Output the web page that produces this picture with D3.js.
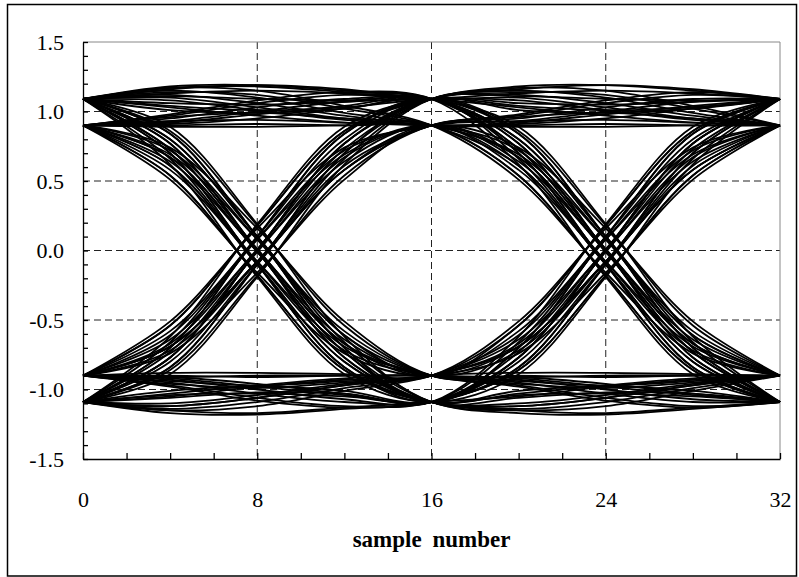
<!DOCTYPE html>
<html><head><meta charset="utf-8">
<script src="https://cdn.jsdelivr.net/npm/d3@7"></script>
<style>body{margin:0;background:#fff}svg{display:block}</style>
</head><body>
<svg id="c" width="799" height="577"></svg>
<script>
// Waveform, one row per symbol period (values at samples 0,4,8,12 of the period)
const segments = [
  [1.09, 1.17, 1.18, 1.14], [1.09, 0.77, 0.00, -0.77], [-1.09, -1.12, -1.06, -0.97],
  [-0.90, -0.69, -0.08, 0.58], [0.90, 0.97, 1.06, 1.12], [1.09, 1.03, 0.97, 0.92],
  [0.90, 0.54, -0.18, -0.86], [-1.09, -1.04, -1.03, -1.05], [-1.09, -0.84, -0.10, 0.70],
  [1.09, 0.86, 0.18, -0.54], [-0.90, -0.90, -0.91, -0.90], [-0.90, -0.92, -0.98, -1.04],
  [-1.09, -0.80, -0.10, 0.61], [0.90, 0.96, 0.99, 0.95], [0.90, 0.92, 0.98, 1.04],
  [1.09, 0.70, -0.10, -0.84], [-1.09, -0.77, 0.00, 0.77], [1.09, 1.01, 0.99, 1.02],
  [1.09, 0.73, 0.01, -0.67], [-0.90, -0.58, 0.08, 0.69], [0.90, 0.61, -0.10, -0.80],
  [-1.09, -1.03, -0.97, -0.92], [-0.90, -0.96, -0.99, -0.95], [-0.90, -0.67, 0.01, 0.73],
  [1.09, 1.12, 1.06, 0.97], [0.90, 0.90, 0.91, 0.90], [0.90, 0.67, -0.01, -0.73],
  [-1.09, -0.70, 0.10, 0.84], [1.09, 0.84, 0.10, -0.70], [-1.09, -1.17, -1.18, -1.14],
  [-1.09, -0.86, -0.18, 0.54], [0.90, 0.95, 1.03, 1.09], [1.09, 0.80, 0.10, -0.61],
  [-0.90, -0.54, 0.18, 0.86], [1.09, 1.06, 1.05, 1.07], [1.09, 0.77, 0.00, -0.77],
  [-1.09, -1.10, -1.04, -0.96], [-0.90, -0.64, 0.00, 0.64], [0.90, 0.58, -0.08, -0.69],
  [-0.90, -0.97, -1.06, -1.12], [-1.09, -0.77, 0.00, 0.77], [1.09, 1.15, 1.10, 0.99],
  [0.90, 0.69, 0.08, -0.58], [-0.90, -0.91, -0.90, -0.90], [-0.90, -0.95, -1.03, -1.09],
  [-1.09, -0.84, -0.10, 0.70], [1.09, 1.16, 1.19, 1.16], [1.09, 1.10, 1.03, 0.95],
  [0.90, 0.54, -0.18, -0.86], [-1.09, -1.14, -1.09, -0.99], [-0.90, -0.69, -0.08, 0.58],
  [0.90, 0.93, 1.00, 1.07], [1.09, 1.13, 1.15, 1.13], [1.09, 0.89, 0.19, -0.62],
  [-1.09, -1.06, -1.02, -1.03], [-1.09, -0.73, -0.01, 0.67], [0.90, 0.74, 0.16, -0.51],
  [-0.90, -0.93, -1.00, -1.07], [-1.09, -0.62, 0.19, 0.89], [1.09, 1.04, 1.01, 1.03],
  [1.09, 1.08, 1.01, 0.94], [0.90, 0.89, 0.89, 0.90], [0.90, 0.72, 0.08, -0.66],
  [-1.09, -1.15, -1.12, -1.01], [-0.90, -0.61, 0.10, 0.80], [1.09, 0.66, -0.08, -0.72],
  [-0.90, -0.94, -0.97, -0.94], [-0.90, -0.51, 0.16, 0.74], [0.90, 0.98, 1.08, 1.14],
  [1.09, 0.62, -0.19, -0.89], [-1.09, -0.89, -0.19, 0.62], [1.09, 1.14, 1.12, 1.02],
  [0.90, 0.61, -0.10, -0.80], [-1.09, -1.15, -1.17, -1.13], [-1.09, -1.05, -0.98, -0.93],
  [-0.90, -0.74, -0.16, 0.51], [0.90, 0.64, 0.00, -0.64], [-0.90, -0.72, -0.08, 0.66],
  [1.09, 1.11, 1.09, 1.08], [1.09, 0.80, 0.10, -0.61], [-0.90, -0.91, -0.96, -1.03],
  [-1.09, -0.66, 0.08, 0.72], [0.90, 0.93, 0.94, 0.92], [0.90, 0.91, 0.95, 1.02],
  [1.09, 0.84, 0.10, -0.70], [-1.09, -0.70, 0.10, 0.84], [1.09, 0.70, -0.10, -0.84],
  [-1.09, -1.12, -1.06, -0.97], [-0.90, -0.88, -0.88, -0.89], [-0.90, -0.54, 0.18, 0.86],
  [1.09, 1.17, 1.15, 1.04], [0.90, 0.51, -0.16, -0.74], [-0.90, -0.69, -0.08, 0.58],
  [0.90, 0.67, -0.01, -0.73], [-1.09, -1.01, -0.98, -1.01], [-1.09, -0.77, 0.00, 0.77],
  [1.09, 1.18, 1.19, 1.15], [1.09, 0.73, 0.01, -0.67], [-0.90, -0.98, -1.08, -1.13],
  [-1.09, -0.86, -0.18, 0.54]
];
const finalLevel = [0.90];
const sampleStep = 4;          // samples between stored values
const windowSamples = 32;      // eye window = 2 symbol periods
const xTickValues = [0, 8, 16, 24, 32];
const yTickValues = [-1.5, -1.0, -0.5, 0.0, 0.5, 1.0, 1.5];
const xTitle = "sample number";

const wave = segments.flat().concat(finalLevel);
const perSymbol = segments[0].length;
const perWindow = windowSamples / sampleStep + 1;
const traces = [];
for (let k = 0; k + perWindow <= wave.length; k += perSymbol) {
  traces.push(wave.slice(k, k + perWindow).map((v, i) => ({s: i * sampleStep, v})));
}

const svg = d3.select("#c");
const font = "'Liberation Serif','Times New Roman',serif";
const L = 83, R = 780, T = 42, B = 459;
const x = d3.scaleLinear().domain([0, 32]).range([L, R]);
const y = d3.scaleLinear().domain([-1.5, 1.5]).range([B, T]);

svg.append("rect").attr("x", 7.5).attr("y", 4.5).attr("width", 789).attr("height", 571.5)
  .attr("fill", "#fff").attr("stroke", "#000").attr("stroke-width", 1.5);

// grid
const grid = svg.append("g").attr("stroke", "#222").attr("stroke-width", 1).attr("stroke-dasharray", "7,4");
grid.selectAll("line.gx").data(xTickValues.filter(v => v > 0 && v < 32)).join("line")
  .attr("x1", d => x(d)).attr("x2", d => x(d)).attr("y1", T).attr("y2", B);
grid.selectAll("line.gy").data(yTickValues.filter(v => v > -1.5 && v < 1.5)).join("line")
  .attr("y1", d => y(d)).attr("y2", d => y(d)).attr("x1", L).attr("x2", R);

// frame top/right
svg.append("line").attr("x1", L).attr("x2", R).attr("y1", T).attr("y2", T).attr("stroke", "#888").attr("stroke-width", 1);
svg.append("line").attr("x1", R).attr("x2", R).attr("y1", T).attr("y2", B).attr("stroke", "#888").attr("stroke-width", 1);

// traces
const line = d3.line().x(d => x(d.s)).y(d => y(d.v)).curve(d3.curveCatmullRom.alpha(0.5));
svg.append("g").selectAll("path").data(traces).join("path")
  .attr("d", line).attr("fill", "none").attr("stroke", "#000").attr("stroke-width", 1.8);

// axes: minor ticks
const yMinor = d3.range(0, 31).map(i => -1.5 + i * 0.1);
const xMinor = d3.range(0, 17).map(i => i * 2);
const ay = svg.append("g").attr("transform", `translate(${L},0)`)
  .call(d3.axisLeft(y).tickValues(yMinor).tickSizeInner(-5).tickSizeOuter(0).tickFormat(""));
const ax = svg.append("g").attr("transform", `translate(0,${B})`)
  .call(d3.axisBottom(x).tickValues(xMinor).tickSizeInner(-6).tickSizeOuter(0).tickFormat(""));
[ay, ax].forEach(g => { g.selectAll("path,line").attr("stroke", "#000").attr("stroke-width", 1.3); });

// labels
const fmt = d => d3.format(".1f")(d).replace("\u2212", "-");
const ly = svg.append("g").attr("transform", `translate(${L},0)`)
  .call(d3.axisLeft(y).tickValues(yTickValues).tickSize(0).tickPadding(19).tickFormat(fmt));
ly.select(".domain").remove();
ly.selectAll("text").attr("font-family", font).attr("font-size", 22).attr("fill", "#000");
const lx = svg.append("g").attr("transform", `translate(0,${B})`)
  .call(d3.axisBottom(x).tickValues(xTickValues).tickSize(0).tickPadding(32).tickFormat(d3.format("d")));
lx.select(".domain").remove();
lx.selectAll("text").attr("font-family", font).attr("font-size", 22).attr("fill", "#000");

svg.append("text").attr("x", (L + R) / 2).attr("y", 547).attr("text-anchor", "middle")
  .attr("font-family", font).attr("font-size", 23).attr("font-weight", "bold")
  .attr("word-spacing", 5).text(xTitle);
</script>
</body></html>
